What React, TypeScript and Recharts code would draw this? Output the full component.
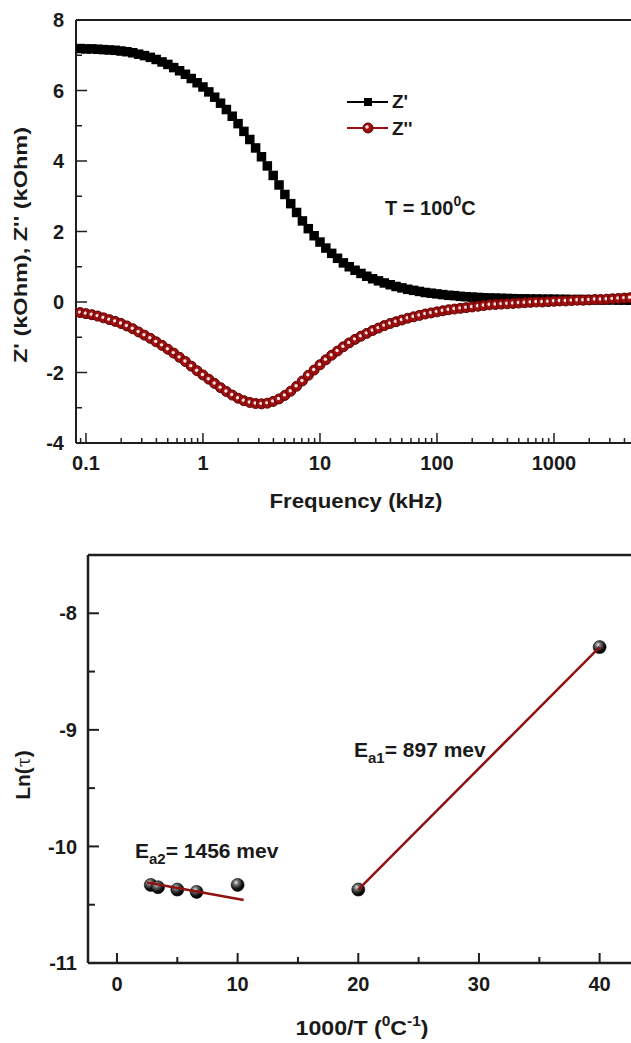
import React from "react";
import {
  LineChart,
  Line,
  ScatterChart,
  Scatter,
  XAxis,
  YAxis,
  ReferenceLine,
} from "recharts";

// ---- top panel: impedance vs frequency (T = 100 °C) ----
const freqKHz = [
  0.0891, 0.1, 0.1122, 0.1259, 0.1413, 0.1585, 0.1778, 0.1995, 0.2239, 0.2512, 0.2818,
  0.3162, 0.3548, 0.3981, 0.4467, 0.5012, 0.5623, 0.631, 0.7079, 0.7943, 0.8913,
  1, 1.122, 1.259, 1.413, 1.585, 1.778, 1.995, 2.239, 2.512, 2.818,
  3.162, 3.548, 3.981, 4.467, 5.012, 5.623, 6.31, 7.079, 7.943, 8.913,
  10, 11.22, 12.59, 14.13, 15.85, 17.78, 19.95, 22.39, 25.12, 28.18,
  31.62, 35.48, 39.81, 44.67, 50.12, 56.23, 63.1, 70.79, 79.43, 89.13,
  100, 112.2, 125.9, 141.3, 158.5, 177.8, 199.5, 223.9, 251.2, 281.8,
  316.2, 354.8, 398.1, 446.7, 501.2, 562.3, 631, 707.9, 794.3, 891.3,
  1000, 1122, 1259, 1413, 1585, 1778, 1995, 2239, 2512, 2818,
  3162, 3548, 3981, 4467,
];

// Z' (kOhm)
const zReal = [
  7.19, 7.18, 7.18, 7.17, 7.16, 7.15, 7.14, 7.12, 7.1, 7.07, 7.03,
  6.99, 6.94, 6.88, 6.81, 6.74, 6.65, 6.56, 6.46, 6.34, 6.22,
  6.1, 5.96, 5.81, 5.64, 5.46, 5.27, 5.06, 4.84, 4.61, 4.37,
  4.12, 3.86, 3.59, 3.32, 3.05, 2.79, 2.54, 2.3, 2.08, 1.88,
  1.7, 1.53, 1.38, 1.24, 1.11, 1.0, 0.9, 0.81, 0.73, 0.66,
  0.6, 0.54, 0.49, 0.44, 0.4, 0.36, 0.33, 0.3, 0.27, 0.25,
  0.23, 0.21, 0.19, 0.18, 0.16, 0.15, 0.14, 0.13, 0.12, 0.115,
  0.11, 0.105, 0.1, 0.095, 0.09, 0.09, 0.085, 0.085, 0.08, 0.08,
  0.08, 0.075, 0.075, 0.07, 0.07, 0.07, 0.065, 0.065, 0.06, 0.06,
  0.06, 0.055, 0.055, 0.05,
];

// Z'' (kOhm)
const zImag = [
  -0.3, -0.33, -0.36, -0.4, -0.45, -0.5, -0.55, -0.61, -0.68, -0.76, -0.85,
  -0.94, -1.03, -1.13, -1.23, -1.34, -1.45, -1.57, -1.69, -1.82, -1.95,
  -2.07, -2.19, -2.31, -2.43, -2.54, -2.64, -2.73, -2.8, -2.85, -2.88,
  -2.89, -2.87, -2.82, -2.75, -2.65, -2.53, -2.39, -2.24, -2.08, -1.93,
  -1.78, -1.64, -1.51, -1.39, -1.27, -1.16, -1.06, -0.97, -0.89, -0.81,
  -0.74, -0.67, -0.61, -0.56, -0.51, -0.46, -0.42, -0.38, -0.34, -0.31,
  -0.28, -0.25, -0.22, -0.2, -0.18, -0.16, -0.14, -0.12, -0.1, -0.08,
  -0.07, -0.06, -0.05, -0.04, -0.03, -0.02, -0.01, 0.0, 0.0, 0.01,
  0.02, 0.03, 0.03, 0.04, 0.05, 0.05, 0.06, 0.07, 0.07, 0.08,
  0.09, 0.1, 0.11, 0.12,
];

const freqTicks = [
  0.09, 0.1, 0.2, 0.3, 0.4, 0.5, 0.6, 0.7, 0.8, 0.9,
  1, 2, 3, 4, 5, 6, 7, 8, 9,
  10, 20, 30, 40, 50, 60, 70, 80, 90,
  100, 200, 300, 400, 500, 600, 700, 800, 900,
  1000, 2000, 3000, 4000,
];
const freqMajor = [0.1, 1, 10, 100, 1000];
const zTicks = [-4, -3, -2, -1, 0, 1, 2, 3, 4, 5, 6, 7, 8];
const zMajor = [-4, -2, 0, 2, 4, 6, 8];

// ---- bottom panel: Arrhenius plot ----
const invT = [2.8, 3.4, 5.0, 6.6, 10.0, 20.0, 40.0];
const lnTau = [-10.33, -10.35, -10.37, -10.39, -10.33, -10.37, -8.29];
const fitLowX = [2.5, 10.5];
const fitLowY = [-10.31, -10.46];
const fitHighX = [20, 40];
const fitHighY = [-10.37, -8.29];

const invTTicks = [0, 5, 10, 15, 20, 25, 30, 35, 40];
const invTMajor = [0, 10, 20, 30, 40];
const lnTicks = [-11, -10.5, -10, -9.5, -9, -8.5, -8];
const lnMajor = [-11, -10, -9, -8];

const impedanceRows = freqKHz.map((f, i) => ({ f, zr: zReal[i], zi: zImag[i] }));
const tauPoints = invT.map((x, i) => ({ x, y: lnTau[i] }));
const fitLow = fitLowX.map((x, i) => ({ x, y: fitLowY[i] }));
const fitHigh = fitHighX.map((x, i) => ({ x, y: fitHighY[i] }));

const AXIS = "#1e1e1e";
const TEXT = "#1a1a1a";
const RED = "#a01010";
const FIT = "#8e1212";
const FONT = "'Liberation Sans', Arial, sans-serif";

const txt = { fontFamily: FONT, fontWeight: 700, fill: TEXT } as const;

function FreqTick({ x, y, payload }: any) {
  const v = payload.value;
  const major = freqMajor.includes(v);
  return (
    <g>
      <line x1={x} y1={y} x2={x} y2={y - (major ? 10 : 5)} stroke={AXIS} strokeWidth={1.5} />
      {major && (
        <text x={x} y={y + 27} textAnchor="middle" fontSize={20} {...txt}>
          {String(v)}
        </text>
      )}
    </g>
  );
}

function ZTick({ x, y, payload }: any) {
  const v = payload.value;
  const major = zMajor.includes(v);
  return (
    <g>
      <line x1={x} y1={y} x2={x + (major ? 11 : 6)} y2={y} stroke={AXIS} strokeWidth={1.5} />
      {major && (
        <text x={x - 12} y={y} dy="0.36em" textAnchor="end" fontSize={20} {...txt}>
          {String(v)}
        </text>
      )}
    </g>
  );
}

function InvTTick({ x, y, payload }: any) {
  const v = payload.value;
  const major = invTMajor.includes(v);
  return (
    <g>
      <line x1={x} y1={y} x2={x} y2={y - (major ? 10 : 6)} stroke={AXIS} strokeWidth={2} />
      {major && (
        <text x={x} y={y + 28} textAnchor="middle" fontSize={20} {...txt}>
          {String(v)}
        </text>
      )}
    </g>
  );
}

function LnTick({ x, y, payload }: any) {
  const v = payload.value;
  const major = lnMajor.includes(v);
  return (
    <g>
      <line x1={x} y1={y} x2={x + (major ? 11 : 7)} y2={y} stroke={AXIS} strokeWidth={2} />
      {major && (
        <text x={x - 11} y={y} dy="0.36em" textAnchor="end" fontSize={20} {...txt}>
          {String(v)}
        </text>
      )}
    </g>
  );
}

function SquareDot(props: any) {
  const { cx, cy, index } = props;
  if (cx == null || cy == null) return <g key={`zr-${index}`} />;
  return <rect key={`zr-${index}`} x={cx - 4.75} y={cy - 4.75} width={9.5} height={9.5} fill="#000" />;
}

function BeadDot(props: any) {
  const { cx, cy, index } = props;
  if (cx == null || cy == null) return <g key={`zi-${index}`} />;
  return (
    <g key={`zi-${index}`}>
      <circle cx={cx} cy={cy} r={5} fill={RED} stroke="#5e0000" strokeWidth={1} />
      <circle cx={cx - 0.5} cy={cy - 0.5} r={1.7} fill="#f6e2e2" />
    </g>
  );
}

function Ball(props: any) {
  const { cx, cy } = props;
  return <circle cx={cx} cy={cy} r={6.5} fill="url(#ball)" stroke="#000" strokeWidth={0.6} />;
}

function ImpedanceChart() {
  return (
    <LineChart
      width={631}
      height={520}
      data={impedanceRows}
      margin={{ top: 20, right: 0, left: 0, bottom: 0 }}
    >
      <XAxis
        dataKey="f"
        type="number"
        scale="log"
        domain={[0.0822, 4550]}
        allowDataOverflow
        ticks={freqTicks}
        interval={0}
        height={77}
        tickSize={0}
        tickMargin={0}
        tickLine={false}
        tick={<FreqTick />}
        axisLine={{ stroke: AXIS, strokeWidth: 2 }}
      />
      <YAxis
        type="number"
        domain={[-4, 8]}
        allowDataOverflow
        ticks={zTicks}
        interval={0}
        width={76}
        tickSize={0}
        tickMargin={0}
        tickLine={false}
        tick={<ZTick />}
        axisLine={{ stroke: AXIS, strokeWidth: 2 }}
      />
      <ReferenceLine y={8} stroke={AXIS} strokeWidth={2} />
      <Line
        dataKey="zr"
        stroke="#000"
        strokeWidth={1}
        dot={SquareDot}
        activeDot={false}
        isAnimationActive={false}
      />
      <Line
        dataKey="zi"
        stroke={RED}
        strokeWidth={1}
        dot={BeadDot}
        activeDot={false}
        isAnimationActive={false}
      />

      {/* legend */}
      <line x1={347} x2={388} y1={102} y2={102} stroke="#000" strokeWidth={2} />
      <rect x={364} y={98} width={8} height={8} fill="#000" />
      <text x={392} y={108} fontSize={19} {...txt}>Z'</text>
      <line x1={347} x2={388} y1={128} y2={128} stroke={RED} strokeWidth={2} />
      <circle cx={368} cy={128} r={5} fill={RED} stroke="#5e0000" strokeWidth={1} />
      <circle cx={367} cy={127} r={1.8} fill="#f6e2e2" />
      <text x={392} y={135} fontSize={19} {...txt}>Z''</text>

      <text x={385} y={215} fontSize={20} {...txt}>
        T = 100
        <tspan dy={-9} fontSize={14}>0</tspan>
        <tspan dy={9}>C</tspan>
      </text>

      <text x={356} y={508} textAnchor="middle" fontSize={21} textLength={173} lengthAdjust="spacingAndGlyphs" {...txt}>
        Frequency (kHz)
      </text>
      <text
        transform="translate(27,245) rotate(-90)"
        textAnchor="middle"
        fontSize={19}
        textLength={236}
        lengthAdjust="spacingAndGlyphs"
        {...txt}
      >
        Z' (kOhm), Z'' (kOhm)
      </text>
    </LineChart>
  );
}

function ArrheniusChart() {
  return (
    <ScatterChart width={631} height={503} margin={{ top: 15, right: 0, left: 0, bottom: 0 }}>
      <defs>
        <radialGradient id="ball" cx="38%" cy="32%" r="70%">
          <stop offset="0%" stopColor="#e4e4e4" />
          <stop offset="30%" stopColor="#6a6a6a" />
          <stop offset="70%" stopColor="#111" />
          <stop offset="100%" stopColor="#000" />
        </radialGradient>
      </defs>
      <XAxis
        dataKey="x"
        type="number"
        domain={[-2.4, 42.6]}
        allowDataOverflow
        ticks={invTTicks}
        interval={0}
        height={80}
        tickSize={0}
        tickMargin={0}
        tickLine={false}
        tick={<InvTTick />}
        axisLine={{ stroke: AXIS, strokeWidth: 2.5 }}
      />
      <YAxis
        dataKey="y"
        type="number"
        domain={[-11, -7.5]}
        allowDataOverflow
        ticks={lnTicks}
        interval={0}
        width={88}
        tickSize={0}
        tickMargin={0}
        tickLine={false}
        tick={<LnTick />}
        axisLine={{ stroke: AXIS, strokeWidth: 2.5 }}
      />
      <ReferenceLine y={-7.5} stroke={AXIS} strokeWidth={2.5} />
      <Scatter data={tauPoints} shape={Ball} isAnimationActive={false} />
      <Scatter
        data={fitLow}
        line={{ stroke: FIT, strokeWidth: 2.5 }}
        lineType="joint"
        shape={() => <g />}
        isAnimationActive={false}
      />
      <Scatter
        data={fitHigh}
        line={{ stroke: FIT, strokeWidth: 2.5 }}
        lineType="joint"
        shape={() => <g />}
        isAnimationActive={false}
      />

      <text x={354} y={217} fontSize={21} {...txt}>
        E<tspan dy={6} fontSize={15}>a1</tspan>
        <tspan dy={-6}>= 897 mev</tspan>
      </text>
      <text x={135} y={318} fontSize={21} {...txt}>
        E<tspan dy={6} fontSize={15}>a2</tspan>
        <tspan dy={-6}>= 1456 mev</tspan>
      </text>

      <text x={362} y={495} textAnchor="middle" fontSize={21} textLength={133} lengthAdjust="spacingAndGlyphs" {...txt}>
        1000/T (<tspan dy={-9} fontSize={14}>0</tspan>
        <tspan dy={9}>C</tspan>
        <tspan dy={-9} fontSize={14}>-1</tspan>
        <tspan dy={9}>)</tspan>
      </text>
      <text transform="translate(30,235) rotate(-90)" textAnchor="middle" fontSize={21} {...txt}>
        Ln(<tspan fontWeight={400} fontFamily="'DejaVu Serif', serif" fontSize={18}>τ</tspan>)
      </text>
    </ScatterChart>
  );
}

export default function App() {
  return (
    <div style={{ position: "absolute", left: 0, top: 0, width: 631, height: 1043, background: "#fff" }}>
      <div style={{ position: "absolute", left: 0, top: 0 }}>
        <ImpedanceChart />
      </div>
      <div style={{ position: "absolute", left: 0, top: 540 }}>
        <ArrheniusChart />
      </div>
    </div>
  );
}
